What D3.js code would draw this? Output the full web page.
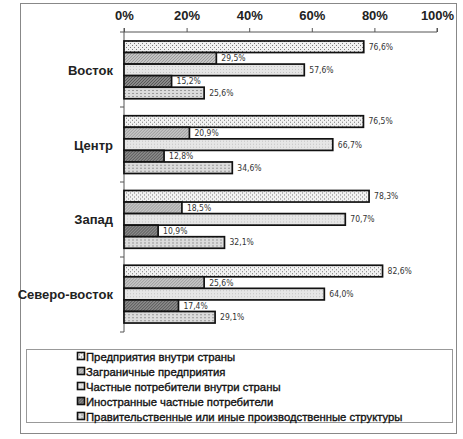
<!DOCTYPE html>
<html>
<head>
<meta charset="utf-8">
<script src="https://cdn.jsdelivr.net/npm/d3@7"></script>
<style>
  body { margin: 0; background: #fff; }
  text { font-family: "Liberation Sans", Arial, sans-serif; }
</style>
</head>
<body>
<svg id="viz" width="463" height="439"></svg>
<script>
var regions = ["Восток", "Центр", "Запад", "Северо-восток"]
var seriesNames = [
  "Предприятия внутри страны",
  "Заграничные предприятия",
  "Частные потребители внутри страны",
  "Иностранные частные потребители",
  "Правительственные или иные производственные структуры"
]
var vostok = [76.6, 29.5, 57.6, 15.2, 25.6]
var centr = [76.5, 20.9, 66.7, 12.8, 34.6]
var zapad = [78.3, 18.5, 70.7, 10.9, 32.1]
var severoVostok = [82.6, 25.6, 64.0, 17.4, 29.1]
var values = [vostok, centr, zapad, severoVostok]
var ticks = [0, 20, 40, 60, 80, 100]

var svg = d3.select("#viz")

// patterns for the fills
var defs = svg.append("defs")
var p1 = defs.append("pattern").attr("id", "pat0").attr("width", 4).attr("height", 4).attr("patternUnits", "userSpaceOnUse")
p1.append("rect").attr("width", 4).attr("height", 4).attr("fill", "#f2f2f2")
p1.append("rect").attr("x", 0).attr("y", 0).attr("width", 1).attr("height", 1).attr("fill", "#777")
p1.append("rect").attr("x", 2).attr("y", 2).attr("width", 1).attr("height", 1).attr("fill", "#777")

var p2 = defs.append("pattern").attr("id", "pat1").attr("width", 3).attr("height", 3).attr("patternUnits", "userSpaceOnUse")
p2.append("rect").attr("width", 3).attr("height", 3).attr("fill", "#c4c4c4")
p2.append("path").attr("d", "M0,3 L3,0").attr("stroke", "#9a9a9a").attr("stroke-width", 1)

var p3 = defs.append("pattern").attr("id", "pat2").attr("width", 3).attr("height", 3).attr("patternUnits", "userSpaceOnUse")
p3.append("rect").attr("width", 3).attr("height", 3).attr("fill", "#e6e6e6")
p3.append("rect").attr("x", 1).attr("y", 1).attr("width", 1).attr("height", 1).attr("fill", "#c4c4c4")

var p4 = defs.append("pattern").attr("id", "pat3").attr("width", 3).attr("height", 3).attr("patternUnits", "userSpaceOnUse")
p4.append("rect").attr("width", 3).attr("height", 3).attr("fill", "#8a8a8a")
p4.append("path").attr("d", "M0,3 L3,0").attr("stroke", "#555").attr("stroke-width", 1)

var p5 = defs.append("pattern").attr("id", "pat4").attr("width", 4).attr("height", 3).attr("patternUnits", "userSpaceOnUse")
p5.append("rect").attr("width", 4).attr("height", 3).attr("fill", "#dcdcdc")
p5.append("rect").attr("x", 0).attr("y", 1).attr("width", 2).attr("height", 1).attr("fill", "#999")

// outer frame
svg.append("rect").attr("x", 20.5).attr("y", 3.5).attr("width", 436).attr("height", 430)
  .attr("fill", "#fff").attr("stroke", "#888").attr("stroke-width", 1)

var x = d3.scaleLinear().domain([0, 100]).range([124, 437])
var y = d3.scaleBand().domain(regions).range([32, 332]).paddingInner(0.227).paddingOuter(0.12)
var yInner = d3.scaleBand().domain(d3.range(seriesNames.length)).range([0, y.bandwidth()])

// top axis
var xAxis = d3.axisTop(x).tickValues(ticks).tickSize(4).tickFormat(d => d + "%")
var gx = svg.append("g").attr("transform", "translate(0,32)").call(xAxis)
gx.select(".domain").attr("stroke", "#555").attr("d", "M124,-4V0H437V-4")
gx.selectAll(".tick line").attr("stroke", "#555")
gx.selectAll(".tick text").attr("y", -12).style("font-size", "13px").style("font-weight", "bold")
  .style("font-family", "Liberation Sans, Arial, sans-serif").attr("fill", "#222")

// left axis with group separators
var bounds = d3.range(regions.length + 1).map(i => 32 + i * (300 / regions.length))
var gy = svg.append("g")
gy.append("line").attr("x1", 124).attr("x2", 124).attr("y1", 32).attr("y2", 332).attr("stroke", "#555")
gy.selectAll("line.sep").data(bounds).enter().append("line").attr("class", "sep")
  .attr("x1", 120).attr("x2", 124).attr("y1", d => d).attr("y2", d => d).attr("stroke", "#555")
gy.selectAll("text").data(regions).enter().append("text")
  .attr("x", 113).attr("y", d => y(d) + y.bandwidth() / 2 + 5)
  .attr("text-anchor", "end").style("font-size", "13px").style("font-weight", "bold").attr("fill", "#222")
  .text(d => d)

var fmt = d => d3.format(".1f")(d).replace(".", ",") + "%"

regions.forEach((r, ri) => {
  var g = svg.append("g").attr("transform", "translate(0," + y(r) + ")")
  g.selectAll("rect").data(values[ri]).enter().append("rect")
    .attr("x", x(0)).attr("y", (d, i) => yInner(i))
    .attr("width", d => x(d) - x(0)).attr("height", yInner.bandwidth())
    .attr("fill", (d, i) => "url(#pat" + i + ")")
    .attr("stroke", "#111").attr("stroke-width", 1.7)
  g.selectAll("text").data(values[ri]).enter().append("text")
    .attr("x", d => x(d) + 5).attr("y", (d, i) => yInner(i) + yInner.bandwidth() / 2 + 3)
    .style("font-size", "8.5px").style("font-family", "Liberation Sans Narrow, Arial Narrow, DejaVu Sans Condensed, sans-serif")
    .attr("fill", "#333").text(d => fmt(d))
})

// legend
svg.append("rect").attr("x", 26.5).attr("y", 349.5).attr("width", 426).attr("height", 73)
  .attr("fill", "#fff").attr("stroke", "#999")
var lg = svg.selectAll("g.leg").data(seriesNames).enter().append("g").attr("class", "leg")
  .attr("transform", (d, i) => "translate(77," + (356.5 + i * 15) + ")")
lg.append("rect").attr("x", 0.5).attr("y", -4).attr("width", 7).attr("height", 7)
  .attr("fill", (d, i) => "url(#pat" + i + ")").attr("stroke", "#111").attr("stroke-width", 1.6)
lg.append("text").attr("x", 9).attr("y", 4).style("font-size", "11.3px").attr("fill", "#111")
  .attr("stroke", "#111").attr("stroke-width", 0.35).text(d => d)
</script>
</body>
</html>
